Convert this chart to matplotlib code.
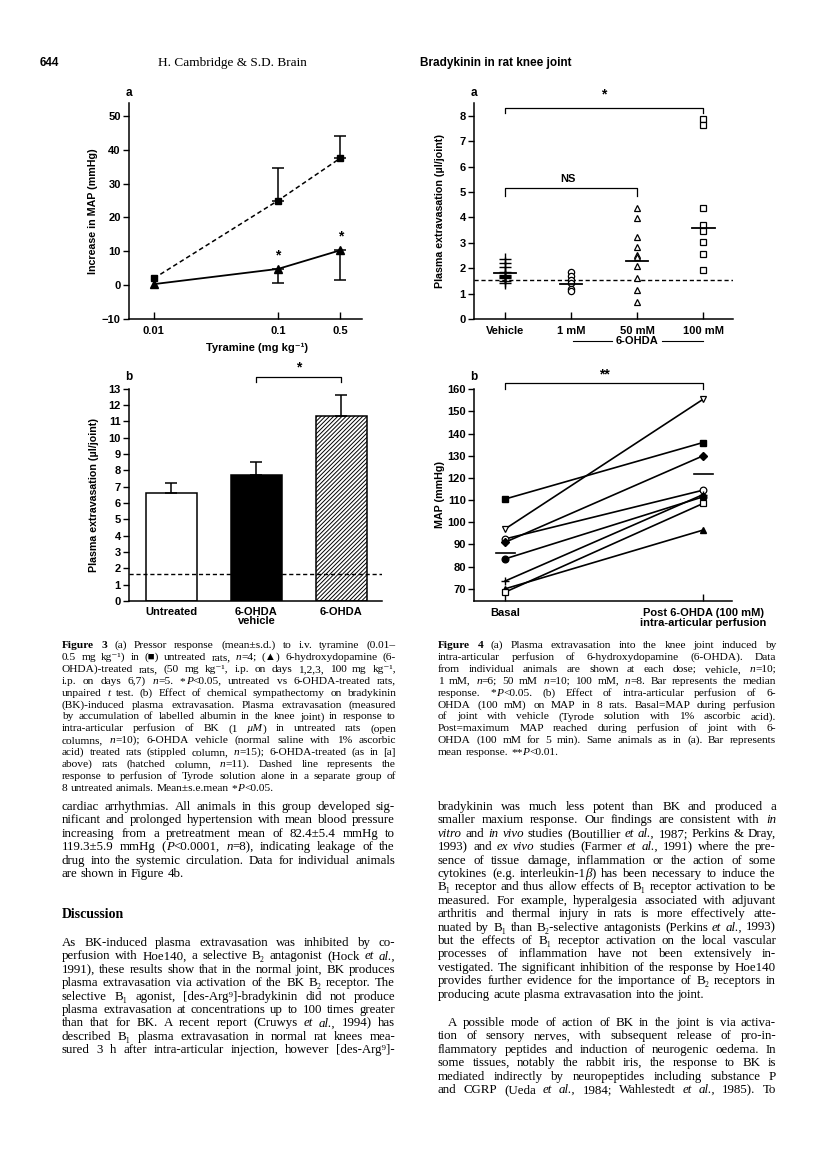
import numpy as np
import matplotlib
matplotlib.use('Agg')
import matplotlib.pyplot as plt
import matplotlib.transforms as mtransforms

W, H = 816, 1167
SANS = ['Liberation Sans', 'DejaVu Sans']
SERIF = ['Liberation Serif', 'DejaVu Serif']
plt.rcParams['font.family'] = SANS
plt.rcParams['font.weight'] = 'bold'
plt.rcParams['axes.labelweight'] = 'bold'
plt.rcParams['hatch.linewidth'] = 0.7

# ---------------- data ----------------
# Fig 3a: tyramine pressor response
dose_labels = ['0.01', '0.1', '0.5']
untreated_mean = [2.0, 25.0, 37.5]
untreated_sd = [0.0, 9.5, 6.5]
ohda_mean = [0.3, 4.8, 10.3]
ohda_sd = [0.0, 4.3, 8.8]

# Fig 3b: plasma extravasation bars
bar_labels = ['Untreated', '6-OHDA\nvehicle', '6-OHDA']
bar_means = [6.6, 7.7, 11.3]
bar_sem = [0.65, 0.8, 1.3]
tyrode_level_3b = 1.65

# Fig 4a: individual animals
group_labels = ['Vehicle', '1 mM', '50 mM', '100 mM']
vehicle_vals = [2.35, 2.2, 2.05, 1.85, 1.75, 1.7, 1.65, 1.6, 1.5, 1.4]
mm1_vals = [1.85, 1.7, 1.55, 1.4, 1.2, 1.1]
mm50_vals = [4.36, 3.96, 3.22, 2.85, 2.5, 2.45, 2.09, 1.6, 1.14, 0.68]
mm100_vals = [7.86, 7.64, 4.35, 3.68, 3.48, 3.04, 2.55, 1.94]
group_medians = [1.8, 1.37, 2.27, 3.58]
tyrode_level_4a = 1.52

# Fig 4b: MAP per rat
map_labels = ['Basal', 'Post 6-OHDA (100 mM)\nintra-articular perfusion']
map_basal = [110.5, 97.0, 92.5, 91.0, 83.5, 73.5, 70.0, 68.5]
map_post = [136.0, 155.5, 114.5, 130.0, 111.5, 112.5, 96.5, 108.5]
map_means = [86.0, 122.0]

# ---------------- layout ----------------
fig = plt.figure(figsize=(W / 100, H / 100), dpi=100)
fig.patch.set_facecolor('white')

TICK_FS = 8
LAB_FS = 7.7


def ax_at(l, t, r, b):
    return fig.add_axes([l / W, 1 - b / H, (r - l) / W, (b - t) / H])


def style(ax):
    for s in ['top', 'right']:
        ax.spines[s].set_visible(False)
    for s in ['left', 'bottom']:
        ax.spines[s].set_linewidth(1.1)
    ax.tick_params(axis='y', direction='out', length=4, width=1.0, labelsize=TICK_FS, pad=2)
    ax.tick_params(axis='x', direction='in', length=5, width=1.0, labelsize=TICK_FS, pad=5)
    ax.patch.set_alpha(0)


def label_at(ax, which, px, py):
    bb = ax.get_position()
    l, r = bb.x0 * W, bb.x1 * W
    t, b = (1 - bb.y1) * H, (1 - bb.y0) * H
    fx = (px - l) / (r - l)
    fy = (b - py) / (b - t)
    if which == 'y':
        ax.yaxis.set_label_coords(fx, fy)
    else:
        ax.xaxis.set_label_coords(fx, fy)


# ---- Fig 3a ----
ax = ax_at(129, 103, 362, 319)
style(ax)
pos3a = np.array([0, 2, 3])
ax.plot(pos3a, untreated_mean, color='k', lw=1.1, dashes=(3, 2), marker='s', ms=5, zorder=3)
ax.plot(pos3a, ohda_mean, color='k', lw=1.3, marker='^', ms=5.5, zorder=3)
ax.errorbar(pos3a[1:], untreated_mean[1:], yerr=[np.zeros(2), untreated_sd[1:]], fmt='none',
            ecolor='k', elinewidth=1.1, capsize=4, capthick=1.1)
ax.errorbar(pos3a[1:], ohda_mean[1:], yerr=[ohda_sd[1:], np.zeros(2)], fmt='none',
            ecolor='k', elinewidth=1.1, capsize=4, capthick=1.1)
for xi, yi in zip(pos3a[1:], ohda_mean[1:]):
    ax.text(xi, yi + 2.0, '*', ha='center', va='bottom', fontsize=10, fontweight='bold')
ax.set_xlim(-0.40, 3.35)
ax.set_ylim(-10, 53.8)
ax.set_yticks([-10, 0, 10, 20, 30, 40, 50])
ax.set_xticks(pos3a)
ax.set_xticklabels(dose_labels)
ax.set_ylabel('Increase in MAP (mmHg)', fontsize=LAB_FS)
ax.set_xlabel('Tyramine (mg kg⁻¹)', fontsize=LAB_FS + 0.3)
label_at(ax, 'y', 98, 211)
label_at(ax, 'x', 257, 343)
fig.text(129 / W, 1 - 93 / H, 'a', fontsize=8.5, fontweight='bold', ha='center', va='center')

# ---- Fig 3b ----
ax = ax_at(129, 388.7, 382, 601)
style(ax)
xb = np.arange(len(bar_means))
ax.bar(xb[0], bar_means[0], width=0.6, color='white', edgecolor='k', lw=1.1)
ax.bar(xb[1], bar_means[1], width=0.6, color='black', edgecolor='k', lw=1.1)
ax.bar(xb[2], bar_means[2], width=0.6, color='white', edgecolor='k', lw=1.1, hatch='////////')
ax.errorbar(xb, bar_means, yerr=[np.zeros(3), bar_sem], fmt='none', ecolor='k',
            elinewidth=1.1, capsize=4, capthick=1.1)
ax.axhline(tyrode_level_3b, color='k', lw=1.0, dashes=(3, 2), zorder=5)
ax.set_xlim(-0.5, 2.48)
ax.set_ylim(0, 13)
ax.set_yticks(range(0, 14))
ax.set_xticks(xb)
ax.set_xticklabels(bar_labels, linespacing=0.95)
ax.tick_params(axis='x', length=0, pad=4)
ax.set_ylabel('Plasma extravasation (µl/joint)', fontsize=LAB_FS)
label_at(ax, 'y', 99, 495)
by = 13.7
ax.plot([1, 1, 2, 2], [by - 0.3, by, by, by - 0.3], color='k', lw=0.9, clip_on=False)
ax.text(1.5, by + 0.15, '*', ha='center', va='bottom', fontsize=10, fontweight='bold')
fig.text(129 / W, 1 - 377 / H, 'b', fontsize=8.5, fontweight='bold', ha='center', va='center')

# ---- Fig 4a ----
ax = ax_at(474, 103, 733, 319)
style(ax)
groups = [vehicle_vals, mm1_vals, mm50_vals, mm100_vals]
mk = [dict(marker='+', ms=8, mew=1.0, color='k'),
      dict(marker='o', ms=4.5, mfc='white', mec='k', mew=0.9),
      dict(marker='^', ms=4.5, mfc='white', mec='k', mew=0.9),
      dict(marker='s', ms=4.2, mfc='white', mec='k', mew=0.9)]
for i, vals in enumerate(groups):
    ax.plot(np.full(len(vals), i), vals, ls='none', zorder=4, **mk[i])
    ax.plot([i - 0.17, i + 0.17], [group_medians[i]] * 2, color='k', lw=1.3, zorder=5)
ax.axhline(tyrode_level_4a, color='k', lw=1.0, dashes=(3, 2), zorder=2)
ax.set_xlim(-0.47, 3.45)
ax.set_ylim(0, 8.5)
ax.set_yticks(range(0, 9))
ax.set_xticks(range(4))
ax.set_xticklabels(group_labels)
ax.set_ylabel('Plasma extravasation (µl/joint)', fontsize=LAB_FS)
label_at(ax, 'y', 445, 211)
ax.plot([0, 0, 3, 3], [8.1, 8.3, 8.3, 8.1], color='k', lw=0.9, clip_on=False)
ax.text(1.5, 8.55, '*', ha='center', va='bottom', fontsize=10, fontweight='bold')
ax.plot([0, 0, 2, 2], [4.84, 5.16, 5.16, 4.84], color='k', lw=0.9, clip_on=False)
ax.text(0.95, 5.3, 'NS', ha='center', va='bottom', fontsize=8, fontweight='bold')
trans = mtransforms.blended_transform_factory(ax.transData, ax.transAxes)
yl = (319 - 341) / 216
ax.plot([1.03, 1.62], [yl, yl], color='k', lw=0.8, transform=trans, clip_on=False)
ax.plot([2.38, 3.0], [yl, yl], color='k', lw=0.8, transform=trans, clip_on=False)
ax.text(2.0, yl, '6-OHDA', transform=trans, ha='center', va='center', fontsize=TICK_FS,
        fontweight='bold')
fig.text(474 / W, 1 - 93 / H, 'a', fontsize=8.5, fontweight='bold', ha='center', va='center')

# ---- Fig 4b ----
ax = ax_at(474, 389.3, 732, 601)
style(ax)
rat_markers = [dict(marker='s', ms=4.5, mfc='k', mec='k'),
               dict(marker='v', ms=5, mfc='white', mec='k', mew=0.9),
               dict(marker='o', ms=4.8, mfc='white', mec='k', mew=0.9),
               dict(marker='D', ms=4.2, mfc='k', mec='k'),
               dict(marker='o', ms=4.8, mfc='k', mec='k'),
               dict(marker='+', ms=6, mew=1.0, mec='k'),
               dict(marker='^', ms=5, mfc='k', mec='k'),
               dict(marker='s', ms=4.5, mfc='white', mec='k', mew=0.9)]
for b0, p0, m in zip(map_basal, map_post, rat_markers):
    ax.plot([0, 1], [b0, p0], color='k', lw=1.2, zorder=3, **m)
for i, mv in enumerate(map_means):
    ax.plot([i - 0.045, i + 0.05], [mv, mv], color='k', lw=1.2, zorder=4)
ax.set_xlim(-0.157, 1.146)
ax.set_ylim(64.5, 160)
ax.set_yticks(range(70, 161, 10))
ax.set_xticks([0, 1])
ax.set_xticklabels(map_labels, linespacing=0.95)
ax.set_ylabel('MAP (mmHg)', fontsize=LAB_FS)
label_at(ax, 'y', 445, 495)
ax.plot([0, 0, 1, 1], [160, 162.7, 162.7, 160], color='k', lw=0.9, clip_on=False)
ax.text(0.5, 163.5, '**', ha='center', va='bottom', fontsize=10, fontweight='bold')
fig.text(474 / W, 1 - 377 / H, 'b', fontsize=8.5, fontweight='bold', ha='center', va='center')

# ---------------- page text ----------------
renderer = fig.canvas.get_renderer()


def make_word(tok, size):
    pieces = []
    for p in tok.split('|'):
        if p == '':
            continue
        st, wt = 'normal', 'normal'
        if p.startswith('^'):
            wt = 'bold'
            p = p[1:]
        if p.startswith('~'):
            st = 'italic'
            p = p[1:]
        t = fig.text(0, 0, p, fontsize=size, family=SERIF, style=st,
                     weight=wt, ha='left', va='baseline')
        pieces.append(t)
    return pieces


def word_width(pieces):
    return sum(t.get_window_extent(renderer).width for t in pieces)


def put_line(line, x0, x1, yb, size, justify):
    words = [make_word(tok, size) for tok in line.split(' ')]
    widths = [word_width(w) for w in words]
    minsp = size * 100 / 72 * 0.18
    natural = sum(widths) + minsp * (len(words) - 1)
    if natural > x1 - x0:
        size = size * (x1 - x0) / natural * 0.995
        for w in words:
            for t in w:
                t.set_fontsize(size)
        widths = [word_width(w) for w in words]
    sp = size * 100 / 72 * 0.25
    if justify and len(words) > 1:
        gap = (x1 - x0 - sum(widths)) / (len(words) - 1)
    else:
        gap = sp
    x = x0
    for w, wd in zip(words, widths):
        xx = x
        for t in w:
            t.set_position((xx / W, 1 - yb / H))
            xx += t.get_window_extent(renderer).width
        x += wd + gap


def put_block(lines, x0, x1, yb0, step, size, last_just=False, indent=0):
    for i, ln in enumerate(lines):
        just = (i < len(lines) - 1) or last_just
        xs = x0 + (indent if i == 0 else 0)
        put_line(ln, xs, x1, yb0 + i * step, size, just)


# header
fig.text(40 / W, 1 - 66 / H, '644', fontsize=8.5, family=SANS, weight='bold', va='baseline')
fig.text(158 / W, 1 - 66 / H, 'H. Cambridge & S.D. Brain', fontsize=9.5, family=SERIF,
         weight='normal', va='baseline')
fig.text(420 / W, 1 - 66 / H, 'Bradykinin in rat knee joint', fontsize=8.5, family=SANS,
         weight='bold', va='baseline')

cap3 = [
    '^Figure ^3 (a) Pressor response (mean±s.d.) to i.v. tyramine (0.01–',
    '0.5 mg kg⁻¹) in (■) untreated rats, ~n|=4; (▲) 6-hydroxydopamine (6-',
    'OHDA)-treated rats, (50 mg kg⁻¹, i.p. on days 1,2,3, 100 mg kg⁻¹,',
    'i.p. on days 6,7) ~n|=5. *|~P|<0.05, untreated vs 6-OHDA-treated rats,',
    'unpaired ~t test. (b) Effect of chemical sympathectomy on bradykinin',
    '(BK)-induced plasma extravasation. Plasma extravasation (measured',
    'by accumulation of labelled albumin in the knee joint) in response to',
    'intra-articular perfusion of BK (1 ~µM|) in untreated rats (open',
    'columns, ~n|=10); 6-OHDA vehicle (normal saline with 1% ascorbic',
    'acid) treated rats (stippled column, ~n|=15); 6-OHDA-treated (as in [a]',
    'above) rats (hatched column, ~n|=11). Dashed line represents the',
    'response to perfusion of Tyrode solution alone in a separate group of',
    '8 untreated animals. Mean±s.e.mean *|~P|<0.05.',
]
cap4 = [
    '^Figure ^4 (a) Plasma extravasation into the knee joint induced by',
    'intra-articular perfusion of 6-hydroxydopamine (6-OHDA). Data',
    'from individual animals are shown at each dose; vehicle, ~n|=10;',
    '1 mM, ~n|=6; 50 mM ~n|=10; 100 mM, ~n|=8. Bar represents the median',
    'response. *|~P|<0.05. (b) Effect of intra-articular perfusion of 6-',
    'OHDA (100 mM) on MAP in 8 rats. Basal=MAP during perfusion',
    'of joint with vehicle (Tyrode solution with 1% ascorbic acid).',
    'Post=maximum MAP reached during perfusion of joint with 6-',
    'OHDA (100 mM for 5 min). Same animals as in (a). Bar represents',
    'mean response. **|~P|<0.01.',
]
CS = 8.2
put_block(cap3, 62, 396, 648, 11.9, CS)
put_block(cap4, 438, 776, 648, 11.9, CS)

left1 = [
    'cardiac arrhythmias. All animals in this group developed sig-',
    'nificant and prolonged hypertension with mean blood pressure',
    'increasing from a pretreatment mean of 82.4±5.4 mmHg to',
    '119.3±5.9 mmHg (|~P|<0.0001, ~n|=8), indicating leakage of the',
    'drug into the systemic circulation. Data for individual animals',
    'are shown in Figure 4b.',
]
left2 = [
    'As BK-induced plasma extravasation was inhibited by co-',
    'perfusion with Hoe140, a selective B₂ antagonist (Hock ~et ~al.,',
    '1991), these results show that in the normal joint, BK produces',
    'plasma extravasation via activation of the BK B₂ receptor. The',
    'selective B₁ agonist, [des-Arg⁹]-bradykinin did not produce',
    'plasma extravasation at concentrations up to 100 times greater',
    'than that for BK. A recent report (Cruwys ~et ~al., 1994) has',
    'described B₁ plasma extravasation in normal rat knees mea-',
    'sured 3 h after intra-articular injection, however [des-Arg⁹]-',
]
right1 = [
    'bradykinin was much less potent than BK and produced a',
    'smaller maxium response. Our findings are consistent with ~in',
    '~vitro and ~in ~vivo studies (Boutillier ~et ~al., 1987; Perkins & Dray,',
    '1993) and ~ex ~vivo studies (Farmer ~et ~al., 1991) where the pre-',
    'sence of tissue damage, inflammation or the action of some',
    'cytokines (e.g. interleukin-1|~β|) has been necessary to induce the',
    'B₁ receptor and thus allow effects of B₁ receptor activation to be',
    'measured. For example, hyperalgesia associated with adjuvant',
    'arthritis and thermal injury in rats is more effectively atte-',
    'nuated by B₁ than B₂-selective antagonists (Perkins ~et ~al., 1993)',
    'but the effects of B₁ receptor activation on the local vascular',
    'processes of inflammation have not been extensively in-',
    'vestigated. The significant inhibition of the response by Hoe140',
    'provides further evidence for the importance of B₂ receptors in',
    'producing acute plasma extravasation into the joint.',
]
right2 = [
    'A possible mode of action of BK in the joint is via activa-',
    'tion of sensory nerves, with subsequent release of pro-in-',
    'flammatory peptides and induction of neurogenic oedema. In',
    'some tissues, notably the rabbit iris, the response to BK is',
    'mediated indirectly by neuropeptides including substance P',
    'and CGRP (Ueda ~et ~al., 1984; Wahlestedt ~et ~al., 1985). To',
]
BS = 9.3
put_block(left1, 62, 395, 810, 13.4, BS)
fig.text(62 / W, 1 - 918 / H, 'Discussion', fontsize=10, family=SERIF, weight='bold', va='baseline')
put_block(left2, 62, 395, 946, 13.4, BS, last_just=True)
put_block(right1, 438, 776, 810, 13.4, BS)
put_block(right2, 438, 776, 1026, 13.4, BS, last_just=True, indent=10)

fig.savefig('out.png', dpi=100, facecolor='white')
